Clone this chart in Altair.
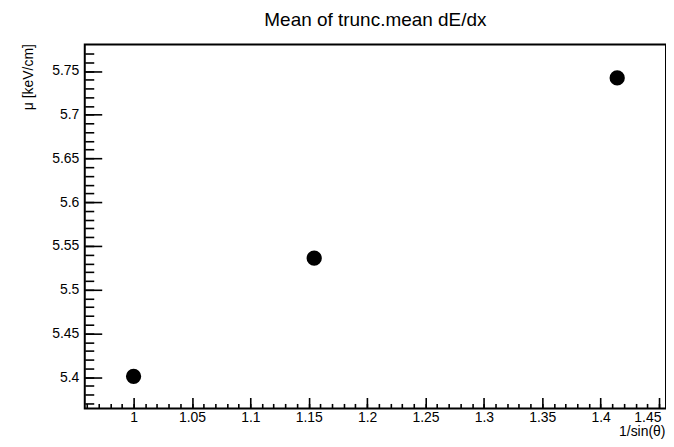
import altair as alt
import pandas as pd

# data
inv_sin = [1.0, 1.1547, 1.4142]
mu = [5.401, 5.536, 5.742]

# tick values
x_major = [1.0, 1.05, 1.1, 1.15, 1.2, 1.25, 1.3, 1.35, 1.4, 1.45]
y_major = [5.4, 5.45, 5.5, 5.55, 5.6, 5.65, 5.7, 5.75]
x_minor = [round(0.96 + 0.01 * i, 2) for i in range(50)]
y_minor = [round(5.37 + 0.01 * i, 2) for i in range(41)]

x_domain = [0.9582, 1.456]
y_domain = [5.3643, 5.7802]

W, H = 583, 365
FONT = "Liberation Sans"

df = pd.DataFrame({"x": inv_sin, "y": mu})
base = alt.Chart(df)

xs = alt.Scale(domain=x_domain, nice=False, zero=False)
ys = alt.Scale(domain=y_domain, nice=False, zero=False)

pts = base.mark_circle(size=235, color="black", opacity=1).encode(
    x=alt.X("x:Q", scale=xs, axis=alt.Axis(
        orient="bottom", values=x_major, format="~g", ticks=False, tickSize=0,
        domain=False, grid=False, labelFontSize=14, labelPadding=2,
        labelBaseline="top", labelFlush=8, labelFlushOffset=2,
        title="1/sin(θ)", titleX=W - 1, titleY=27.5, titleAlign="right",
        titleBaseline="alphabetic", titleFontSize=14, titleFontWeight="normal")),
    y=alt.Y("y:Q", scale=ys, axis=alt.Axis(
        orient="left", values=y_major, format="~g", ticks=False, tickSize=0,
        domain=False, grid=False, labelFontSize=14, labelPadding=6,
        title="μ [keV/cm]", titleX=-56, titleY=-1, titleAngle=270,
        titleAlign="right", titleBaseline="middle", titleFontSize=14,
        titleFontWeight="normal")),
)


def tick_layer(xvals, yvals, xsize, ysize):
    return base.mark_circle(opacity=0).encode(
        x=alt.X("x:Q", scale=xs, axis=alt.Axis(
            orient="top", offset=-H, values=xvals, labels=False, domain=False,
            grid=False, tickSize=xsize, tickWidth=1.6, tickColor="black",
            title="")),
        y=alt.Y("y:Q", scale=ys, axis=alt.Axis(
            orient="right", offset=-W, values=yvals, labels=False, domain=False,
            grid=False, tickSize=ysize, tickWidth=1.6, tickColor="black",
            title="")),
    )


major = tick_layer(x_major, y_major, 11, 17)
minor = tick_layer(x_minor, y_minor, 5, 9)

chart = alt.layer(pts, major, minor).resolve_axis(
    x="independent", y="independent"
).properties(
    width=W, height=H,
    autosize=alt.AutoSizeParams(type="none"),
    padding={"left": 77, "top": 36, "right": 0, "bottom": 30},
    title=alt.TitleParams(
        "Mean of trunc.mean dE/dx", fontSize=19, font=FONT,
        fontWeight="normal", anchor="middle", baseline="alphabetic",
        offset=-1, color="black"),
).configure_axis(
    labelFont=FONT, titleFont=FONT, labelColor="black", titleColor="black",
).configure_view(stroke="black", strokeWidth=2)

chart.save("out.html", embed_options={"renderer": "svg", "actions": False})
